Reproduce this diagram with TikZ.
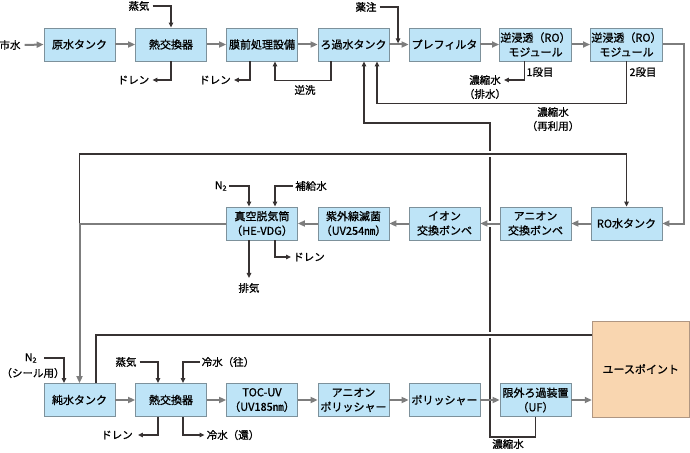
\documentclass[tikz,border=0pt]{standalone}
\usepackage{fontspec}
\setmainfont{Noto Sans CJK JP}[FakeBold=1]
\usetikzlibrary{arrows.meta,calc}
\definecolor{boxfill}{RGB}{190,228,247}
\definecolor{boxline}{RGB}{125,145,155}
\definecolor{upfill}{RGB}{249,214,176}
\definecolor{upline}{RGB}{175,150,130}
\definecolor{flowgray}{RGB}{125,125,125}
\definecolor{auxdark}{RGB}{55,50,50}
\begin{document}
\begin{tikzpicture}[x=1pt,y=-1pt,
 box/.style={draw=boxline,fill=boxfill,line width=0.8pt,minimum width=71pt,minimum height=33pt,inner sep=1pt,align=center,font=\fontsize{11}{14.5}\selectfont},
 lbl/.style={inner sep=0pt,align=center,font=\fontsize{10.5}{14}\selectfont},
 flow/.style={draw=flowgray,line width=2pt,-{Triangle[length=7pt,width=6pt]}},
 flowline/.style={draw=flowgray,line width=2pt},
 aux/.style={draw=auxdark,line width=1.2pt,-{Triangle[length=5pt,width=4.5pt]}},
 auxline/.style={draw=auxdark,line width=1.2pt},
 bridge/.style={preaction={draw=white,line width=6pt,-,shorten <=3pt,shorten >=3pt}}
]
\useasboundingbox (0,0) rectangle (690,452);

% row 1
\node[box] (a1) at (79.5,44.5) {原水タンク};
\node[box] (a2) at (171,44.5) {熱交換器};
\node[box] (a3) at (262,44.5) {膜前処理設備};
\node[box] (a4) at (353.5,44.5) {ろ過水タンク};
\node[box] (a5) at (444.5,44.5) {プレフィルタ};
\node[box] (a6) at (535.5,44.5) {逆浸透（RO）\\モジュール};
\node[box] (a7) at (626.5,44.5) {逆浸透（RO）\\モジュール};
% row 2
\node[box] (b1) at (262,223.5) {真空脱気筒\\（HE-VDG）};
\node[box] (b2) at (353.5,223.5) {紫外線滅菌\\（UV254㎚）};
\node[box] (b3) at (444.5,223.5) {イオン\\交換ボンベ};
\node[box] (b4) at (535.5,223.5) {アニオン\\交換ボンベ};
\node[box] (b5) at (626.5,223.5) {RO水タンク};
% row 3
\node[box] (c1) at (79.5,400) {純水タンク};
\node[box] (c2) at (171,400) {熱交換器};
\node[box] (c3) at (262,400) {TOC-UV\\（UV185㎚）};
\node[box] (c4) at (353.5,400) {アニオン\\ポリッシャー};
\node[box] (c5) at (444.5,400) {ポリッシャー};
\node[box] (c6) at (535.5,400) {限外ろ過装置\\（UF）};
\node[box,draw=upline,fill=upfill,minimum width=97pt,minimum height=96pt] (up) at (640.7,369) {ユースポイント};

% labels
\node[lbl] (shisui) at (10,45) {市水};
\node[lbl] (jouki1) at (139,6) {蒸気};
\node[lbl] (dr1) at (133.5,80) {ドレン};
\node[lbl] (dr2) at (215,80) {ドレン};
\node[lbl] (gyaku) at (305,90) {逆洗};
\node[lbl] (yaku) at (366,7) {薬注};
\node[lbl] (nsk1) at (485,80) {濃縮水};
\node[lbl] (haisui) at (485,94) {（排水）};
\node[lbl] (dan1) at (540,72) {1段目};
\node[lbl] (dan2) at (643,72) {2段目};
\node[lbl] (nsk2) at (553,112) {濃縮水};
\node[lbl] (sairiyo) at (553,126) {（再利用）};
\node[lbl] (n2a) at (221,186) {N\textsubscript{2}};
\node[lbl] (hokyu) at (311,186) {補給水};
\node[lbl] (haiki) at (249,288) {排気};
\node[lbl] (dr3) at (309,257) {ドレン};
\node[lbl] (n2b) at (31,358) {N\textsubscript{2}};
\node[lbl] (seal) at (33,373) {（シール用）};
\node[lbl] (jouki2) at (126,362) {蒸気};
\node[lbl] (reiou) at (228,362) {冷水（往）};
\node[lbl] (dr4) at (117,435) {ドレン};
\node[lbl] (reikan) at (233,435) {冷水（還）};
\node[lbl] (nsk3) at (508,444) {濃縮水};

\coordinate (yk) at ($(a4.east)!0.45!(a5.west)$);
\coordinate (rt) at (490,123);
\coordinate (lc) at (b1.west -| c1.north);

% long concentrate return (drawn first, bridged by crossings)
\draw[aux] (c6.south) -- ++(0,20) -| (rt) -| ([xshift=10.5pt]a4.south);

% row 1 flow
\draw[flow] ([xshift=4pt]shisui.east) -- (a1.west);
\draw[flow] (a1) -- (a2);
\draw[flow] (a2) -- (a3);
\draw[flow] (a3) -- (a4);
\draw[flow] (a4) -- (a5);
\draw[flow] (a5) -- (a6);
\draw[flow] (a6) -- (a7);
\draw[flow] (a7.east) -- ++(21,0) |- (b5.east);

% row 1 aux
\draw[aux] ([xshift=3pt]jouki1.east) -| (a2.north);
\draw[aux] (a2.south) |- ([xshift=3pt]dr1.east);
\draw[aux] ([xshift=-12pt]a3.south) |- ([xshift=3pt]dr2.east);
\draw[aux] ([xshift=-22.5pt]a4.south) -- ++(0,19) -| ([xshift=13pt]a3.south);
\draw[aux] ([xshift=3pt]yaku.east) -| ([yshift=1.2pt]yk);
\draw[aux] ([xshift=-11pt]a6.south) |- ([xshift=3pt]nsk1.east);
\draw[aux] (a7.south) -- ++(0,42) -| ([xshift=23.5pt]a4.south);

% upper-left loop to RO tank
\draw[aux,bridge] (lc) -- ++(0,-69.5) -| (b5.north);

% row 2 flow
\draw[flow] (b5) -- (b4);
\draw[flow,bridge] (b4) -- (b3);
\draw[flow] (b3) -- (b2);
\draw[flow] (b2) -- (b1);
\draw[flow] (b1.west) -| (c1.north);

% row 2 aux
\draw[aux] ([xshift=2pt]n2a.east) -| ([xshift=-13pt]b1.north);
\draw[aux] ([xshift=-2pt]hokyu.west) -| ([xshift=13pt]b1.north);
\draw[aux,shorten >=5pt] ([xshift=-13pt]b1.south) -- (haiki.north);
\draw[aux] ([xshift=13pt]b1.south) |- ([xshift=-2pt]dr3.west);

% return from use point
\draw[auxline,bridge] ([yshift=34pt]up.west) -| ([xshift=16.5pt]c1.north);

% row 3 flow
\draw[flow] (c1) -- (c2);
\draw[flow] (c2) -- (c3);
\draw[flow] (c3) -- (c4);
\draw[flow] (c4) -- (c5);
\draw[flow] (c5) -- (c6);
\draw[flow] (c6.east) -- (c6.east -| up.west);

% row 3 aux
\draw[aux] ([xshift=7pt]n2b.east) -| ([xshift=-15.5pt]c1.north);
\draw[aux] ([xshift=3pt]jouki2.east) -| ([xshift=-13pt]c2.north);
\draw[aux] ([xshift=-2pt]reiou.west) -| ([xshift=12pt]c2.north);
\draw[aux] ([xshift=-13pt]c2.south) |- ([xshift=5pt]dr4.east);
\draw[aux] ([xshift=12pt]c2.south) |- ([xshift=-2pt]reikan.west);
\end{tikzpicture}
\end{document}
